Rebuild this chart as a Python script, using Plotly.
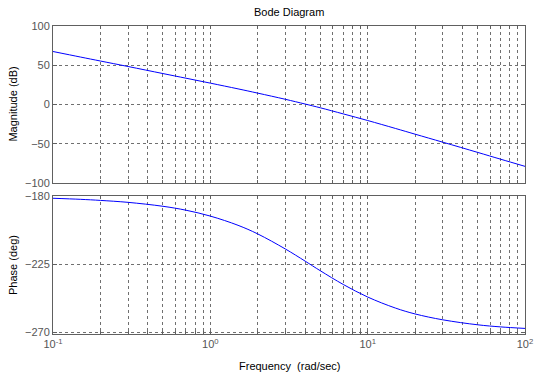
import plotly.graph_objects as go
from plotly.subplots import make_subplots

# Frequency points (rad/sec)
freq = [0.1, 0.15, 0.2, 0.3, 0.5, 0.7, 1, 1.5, 2, 3, 4, 5, 7, 10, 15, 20, 30, 50, 70, 100]
# Magnitude (dB)
mag_db = [67.5, 60.4, 55.4, 48.4, 39.4, 33.5, 27.2, 19.9, 14.5, 6.6, 0.6, -4.2, -12.0, -20.4,
          -30.5, -37.8, -48.0, -61.0, -69.7, -78.8]
# Phase (deg)
phase_deg = [-181.3, -182.0, -182.7, -184.0, -186.6, -189.2, -193.1, -199.2, -204.9, -214.9,
             -222.9, -229.3, -238.4, -246.7, -254.0, -257.9, -261.8, -265.1, -266.5, -267.5]

x_decades = [0.1, 1, 10, 100]
x_decade_labels = ["10<sup>-1</sup>", "10<sup>0</sup>", "10<sup>1</sup>", "10<sup>2</sup>"]
mag_ticks = [-100, -50, 0, 50, 100]
phase_ticks = [-270, -225, -180]

# build tick values (decades + minor grid positions)
tickvals = []
ticktext = []
for d in [0.1, 1, 10]:
    for m in range(1, 10):
        tickvals.append(round(d * m, 6))
        ticktext.append(x_decade_labels[x_decades.index(d)] if m == 1 else "")
tickvals.append(100)
ticktext.append(x_decade_labels[-1])

fig = make_subplots(rows=2, cols=1, shared_xaxes=False)
fig.add_trace(go.Scatter(x=freq, y=mag_db, mode="lines", line=dict(color="#0000ff", width=1),
                         line_shape="spline", showlegend=False), row=1, col=1)
fig.add_trace(go.Scatter(x=freq, y=phase_deg, mode="lines", line=dict(color="#0000ff", width=1),
                         line_shape="spline", showlegend=False), row=2, col=1)

font = dict(family="Liberation Sans, Arial, sans-serif", size=11, color="#000000")
tickfont = dict(family="Liberation Sans, Arial, sans-serif", size=11, color="#555555")
axcolor = "#606060"
gridcolor = "#707070"
dash = "3px,3px"

common_x = dict(type="log", range=[-1, 2], tickvals=tickvals, ticktext=ticktext,
                showgrid=True, gridcolor=gridcolor, griddash=dash, gridwidth=1,
                showline=True, linecolor=axcolor, linewidth=1, mirror="allticks",
                ticks="inside", ticklen=3, tickcolor=axcolor, zeroline=False,
                tickfont=tickfont, automargin=False)

common_y = dict(showgrid=True, gridcolor=gridcolor, griddash=dash, gridwidth=1,
                showline=True, linecolor=axcolor, linewidth=1, mirror="allticks",
                ticks="inside", ticklen=4, tickcolor=axcolor, zeroline=False,
                tickfont=tickfont, automargin=False)

fig.update_layout(
    width=540, height=373,
    margin=dict(l=53, r=15, t=26, b=39, autoexpand=False),
    paper_bgcolor="#ffffff", plot_bgcolor="#ffffff",
    font=font,
    xaxis=dict(common_x, showticklabels=False, anchor="y"),
    xaxis2=dict(common_x, anchor="y2", matches="x"),
    yaxis=dict(common_y, domain=[0.4903, 1.0], range=[-100, 100], tickvals=mag_ticks),
    yaxis2=dict(common_y, domain=[0.0, 0.448], range=[-271.2, -179.8], tickvals=phase_ticks),
    annotations=[
        dict(text="Bode Diagram", x=0.5, y=1, xref="paper", yref="paper",
             xanchor="center", yanchor="bottom", yshift=6, showarrow=False, font=font),
        dict(text="Frequency  (rad/sec)", x=0.5, y=0, xref="paper", yref="paper",
             xanchor="center", yanchor="top", yshift=-24, showarrow=False, font=font),
        dict(text="Magnitude (dB)", x=0, y=0.745, xref="paper", yref="paper",
             xanchor="center", yanchor="middle", xshift=-40, textangle=-90,
             showarrow=False, font=font),
        dict(text="Phase (deg)", x=0, y=0.224, xref="paper", yref="paper",
             xanchor="center", yanchor="middle", xshift=-40, textangle=-90,
             showarrow=False, font=font),
    ],
)

fig.write_html("out.html", config={"displayModeBar": False},
               post_script="document.body.style.margin='0';document.body.style.overflow='hidden';")
